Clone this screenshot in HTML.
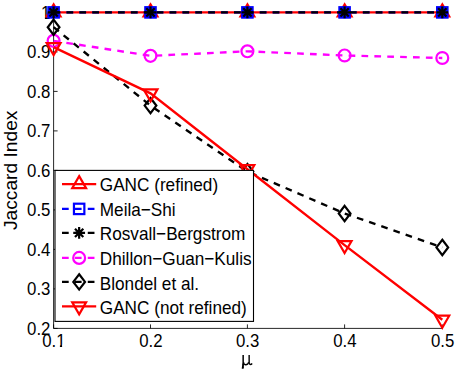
<!DOCTYPE html>
<html><head><meta charset="utf-8"><title>chart</title>
<style>
html,body{margin:0;padding:0;background:#fff;}
svg{display:block;}
text{font-family:"Liberation Sans",sans-serif;fill:#000;}
</style></head><body>
<svg width="457" height="372" viewBox="0 0 457 372">
<rect x="0" y="0" width="457" height="372" fill="#fff"/>
<g stroke="#000" stroke-width="0.85" fill="none">
<path d="M53.6,12.4 V328.4 H442.3"/>
<path d="M53.60,328.4 v-4"/>
<path d="M150.50,328.4 v-4"/>
<path d="M247.40,328.4 v-4"/>
<path d="M344.60,328.4 v-4"/>
<path d="M442.30,328.4 v-4"/>
<path d="M53.6,328.40 h4"/>
<path d="M53.6,288.90 h4"/>
<path d="M53.6,249.40 h4"/>
<path d="M53.6,209.90 h4"/>
<path d="M53.6,170.40 h4"/>
<path d="M53.6,130.90 h4"/>
<path d="M53.6,91.40 h4"/>
<path d="M53.6,51.90 h4"/>
<path d="M53.6,12.40 h4"/>
</g>
<text transform="translate(53.90,346.6) scale(0.944,1)" font-size="17.8" text-anchor="middle">0.1</text>
<text transform="translate(150.80,346.6) scale(0.944,1)" font-size="17.8" text-anchor="middle">0.2</text>
<text transform="translate(247.70,346.6) scale(0.944,1)" font-size="17.8" text-anchor="middle">0.3</text>
<text transform="translate(344.90,346.6) scale(0.944,1)" font-size="17.8" text-anchor="middle">0.4</text>
<text transform="translate(442.60,346.6) scale(0.944,1)" font-size="17.8" text-anchor="middle">0.5</text>
<text transform="translate(50.4,334.80) scale(0.944,1)" font-size="17.8" text-anchor="end">0.2</text>
<text transform="translate(50.4,295.30) scale(0.944,1)" font-size="17.8" text-anchor="end">0.3</text>
<text transform="translate(50.4,255.80) scale(0.944,1)" font-size="17.8" text-anchor="end">0.4</text>
<text transform="translate(50.4,216.30) scale(0.944,1)" font-size="17.8" text-anchor="end">0.5</text>
<text transform="translate(50.4,176.80) scale(0.944,1)" font-size="17.8" text-anchor="end">0.6</text>
<text transform="translate(50.4,137.30) scale(0.944,1)" font-size="17.8" text-anchor="end">0.7</text>
<text transform="translate(50.4,97.80) scale(0.944,1)" font-size="17.8" text-anchor="end">0.8</text>
<text transform="translate(50.4,58.30) scale(0.944,1)" font-size="17.8" text-anchor="end">0.9</text>
<text transform="translate(50.4,18.80) scale(0.944,1)" font-size="17.8" text-anchor="end">1</text>
<text transform="translate(17.4,230.0) rotate(-90)" font-size="19.2" text-anchor="start">Jaccard Index</text>
<g fill="none" stroke="#000" stroke-linecap="butt"><path d="M243.15,355.1 V365.5" stroke-width="1.5"/><path d="M242.5,363.5 L243.9,363.5 L243.9,368.2 Q242.9,369.3 241.7,368.6 Z" fill="#000" stroke="none"/><path d="M243.6,362.2 C243.8,365.6 247.6,365.6 248.7,362.2" stroke-width="1.3"/><path d="M249.15,355.1 V362.4 C249.15,364.6 250.6,365.1 252.2,363.4" stroke-width="1.4"/></g>
<rect x="56.4" y="344.7" width="3.5" height="2.8" fill="#fff"/><rect x="62.1" y="344.7" width="3.6" height="2.8" fill="#fff"/><rect x="41.3" y="16.6" width="3.6" height="2.8" fill="#fff"/>
<polyline points="53.60,12.40 150.50,12.40 247.40,12.40 344.60,12.40 442.30,12.40" fill="none" stroke="#f00" stroke-width="2.35"/>
<path d="M53.60,4.40 L60.53,16.40 L46.67,16.40 Z" fill="none" stroke="#f00" stroke-width="2.2"/>
<path d="M150.50,4.40 L157.43,16.40 L143.57,16.40 Z" fill="none" stroke="#f00" stroke-width="2.2"/>
<path d="M247.40,4.40 L254.33,16.40 L240.47,16.40 Z" fill="none" stroke="#f00" stroke-width="2.2"/>
<path d="M344.60,4.40 L351.53,16.40 L337.67,16.40 Z" fill="none" stroke="#f00" stroke-width="2.2"/>
<path d="M442.30,4.40 L449.23,16.40 L435.37,16.40 Z" fill="none" stroke="#f00" stroke-width="2.2"/>
<polyline points="53.60,12.40 150.50,12.40 247.40,12.40 344.60,12.40 442.30,12.40" fill="none" stroke="#00f" stroke-width="2.35" stroke-dasharray="6.7 6.185"/>
<rect x="48.40" y="7.20" width="10.40" height="10.40" fill="#00f" stroke="#00f" stroke-width="2.2"/>
<rect x="145.30" y="7.20" width="10.40" height="10.40" fill="#00f" stroke="#00f" stroke-width="2.2"/>
<rect x="242.20" y="7.20" width="10.40" height="10.40" fill="#00f" stroke="#00f" stroke-width="2.2"/>
<rect x="339.40" y="7.20" width="10.40" height="10.40" fill="#00f" stroke="#00f" stroke-width="2.2"/>
<rect x="437.10" y="7.20" width="10.40" height="10.40" fill="#00f" stroke="#00f" stroke-width="2.2"/>
<polyline points="53.60,12.40 150.50,12.40 247.40,12.40 344.60,12.40 442.30,12.40" fill="none" stroke="#000" stroke-width="2.35" stroke-dasharray="6.7 6.185"/>
<path d="M47.70,12.40H59.50 M53.60,6.50V18.30 M49.43,8.23L57.77,16.57 M49.43,16.57L57.77,8.23" fill="none" stroke="#000" stroke-width="2.2"/>
<path d="M144.60,12.40H156.40 M150.50,6.50V18.30 M146.33,8.23L154.67,16.57 M146.33,16.57L154.67,8.23" fill="none" stroke="#000" stroke-width="2.2"/>
<path d="M241.50,12.40H253.30 M247.40,6.50V18.30 M243.23,8.23L251.57,16.57 M243.23,16.57L251.57,8.23" fill="none" stroke="#000" stroke-width="2.2"/>
<path d="M338.70,12.40H350.50 M344.60,6.50V18.30 M340.43,8.23L348.77,16.57 M340.43,16.57L348.77,8.23" fill="none" stroke="#000" stroke-width="2.2"/>
<path d="M436.40,12.40H448.20 M442.30,6.50V18.30 M438.13,8.23L446.47,16.57 M438.13,16.57L446.47,8.23" fill="none" stroke="#000" stroke-width="2.2"/>
<polyline points="53.60,40.84 150.50,55.85 247.40,51.31 344.60,55.45 442.30,57.98" fill="none" stroke="#f0f" stroke-width="2.35" stroke-dasharray="6.7 6.185"/>
<circle cx="53.60" cy="40.84" r="5.95" fill="none" stroke="#f0f" stroke-width="2.2"/>
<circle cx="150.50" cy="55.85" r="5.95" fill="none" stroke="#f0f" stroke-width="2.2"/>
<circle cx="247.40" cy="51.31" r="5.95" fill="none" stroke="#f0f" stroke-width="2.2"/>
<circle cx="344.60" cy="55.45" r="5.95" fill="none" stroke="#f0f" stroke-width="2.2"/>
<circle cx="442.30" cy="57.98" r="5.95" fill="none" stroke="#f0f" stroke-width="2.2"/>
<polyline points="53.60,27.21 150.50,105.62 247.40,171.59 344.60,213.46 442.30,247.42" fill="none" stroke="#000" stroke-width="2.35" stroke-dasharray="6.7 6.185"/>
<path d="M53.60,19.56 L59.45,27.21 L53.60,34.86 L47.75,27.21 Z" fill="none" stroke="#000" stroke-width="2.2"/>
<path d="M150.50,97.97 L156.35,105.62 L150.50,113.27 L144.65,105.62 Z" fill="none" stroke="#000" stroke-width="2.2"/>
<path d="M247.40,163.94 L253.25,171.59 L247.40,179.24 L241.55,171.59 Z" fill="none" stroke="#000" stroke-width="2.2"/>
<path d="M344.60,205.81 L350.45,213.46 L344.60,221.11 L338.75,213.46 Z" fill="none" stroke="#000" stroke-width="2.2"/>
<path d="M442.30,239.77 L448.15,247.42 L442.30,255.07 L436.45,247.42 Z" fill="none" stroke="#000" stroke-width="2.2"/>
<polyline points="53.60,47.16 150.50,93.37 247.40,169.22 344.60,245.06 442.30,319.71" fill="none" stroke="#f00" stroke-width="2.35"/>
<path d="M53.60,55.16 L60.53,43.16 L46.67,43.16 Z" fill="none" stroke="#f00" stroke-width="2.2"/>
<path d="M150.50,101.37 L157.43,89.37 L143.57,89.37 Z" fill="none" stroke="#f00" stroke-width="2.2"/>
<path d="M247.40,177.22 L254.33,165.22 L240.47,165.22 Z" fill="none" stroke="#f00" stroke-width="2.2"/>
<path d="M344.60,253.06 L351.53,241.06 L337.67,241.06 Z" fill="none" stroke="#f00" stroke-width="2.2"/>
<path d="M442.30,327.71 L449.23,315.71 L435.37,315.71 Z" fill="none" stroke="#f00" stroke-width="2.2"/>
<rect x="55.0" y="170.4" width="198.5" height="150.99999999999997" fill="#fff" stroke="#000" stroke-width="1.1"/>
<path d="M62,184.10 H96.2" stroke="#f00" stroke-width="2.35" fill="none"/>
<path d="M79.15,176.10 L86.08,188.10 L72.22,188.10 Z" fill="none" stroke="#f00" stroke-width="2.2"/>
<text transform="translate(99.8,191.10) scale(0.924,1)" font-size="18.6">GANC (refined)</text>
<path d="M62,208.90 H96.2" stroke="#00f" stroke-width="2.35" fill="none" stroke-dasharray="6.7 6.185"/>
<rect x="73.95" y="203.70" width="10.40" height="10.40" fill="none" stroke="#00f" stroke-width="2.2"/>
<text transform="translate(99.8,215.70) scale(0.924,1)" font-size="18.6">Meila−Shi</text>
<path d="M62,232.90 H96.2" stroke="#000" stroke-width="2.35" fill="none" stroke-dasharray="6.7 6.185"/>
<path d="M73.25,232.90H85.05 M79.15,227.00V238.80 M74.98,228.73L83.32,237.07 M74.98,237.07L83.32,228.73" fill="none" stroke="#000" stroke-width="2.2"/>
<text transform="translate(99.8,240.00) scale(0.924,1)" font-size="18.6">Rosvall−Bergstrom</text>
<path d="M62,257.90 H96.2" stroke="#f0f" stroke-width="2.35" fill="none" stroke-dasharray="6.7 6.185"/>
<circle cx="79.15" cy="257.90" r="5.95" fill="none" stroke="#f0f" stroke-width="2.2"/>
<text transform="translate(99.8,265.10) scale(0.924,1)" font-size="18.6">Dhillon−Guan−Kulis</text>
<path d="M62,281.90 H96.2" stroke="#000" stroke-width="2.35" fill="none" stroke-dasharray="6.7 6.185"/>
<path d="M79.15,274.25 L85.00,281.90 L79.15,289.55 L73.30,281.90 Z" fill="none" stroke="#000" stroke-width="2.2"/>
<text transform="translate(99.8,289.50) scale(0.924,1)" font-size="18.6">Blondel et al.</text>
<path d="M62,306.40 H96.2" stroke="#f00" stroke-width="2.35" fill="none"/>
<path d="M79.15,314.40 L86.08,302.40 L72.22,302.40 Z" fill="none" stroke="#f00" stroke-width="2.2"/>
<text transform="translate(99.8,313.60) scale(0.924,1)" font-size="18.6">GANC (not refined)</text>
</svg></body></html>
